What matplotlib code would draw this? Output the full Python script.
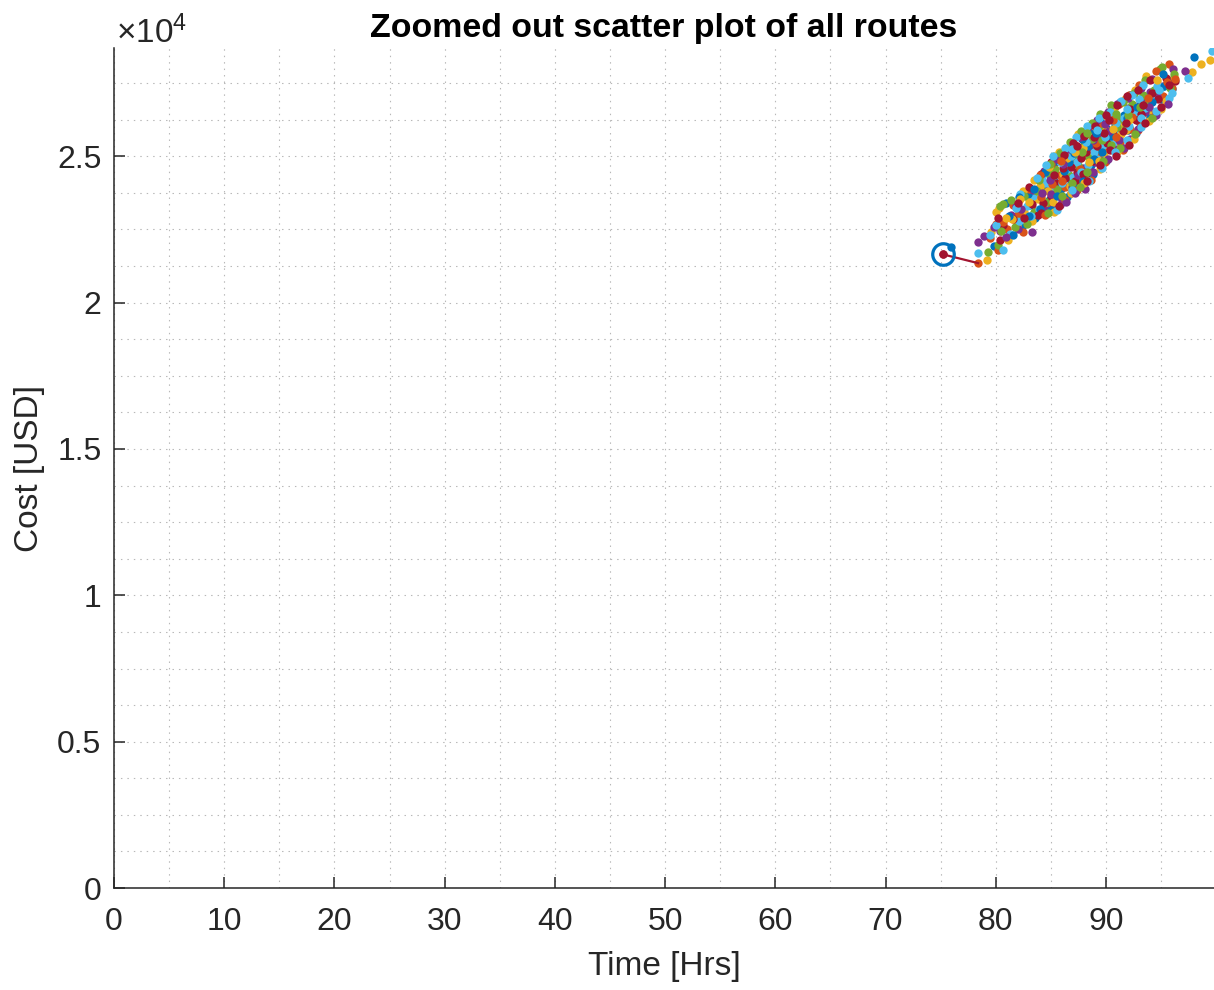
import matplotlib
matplotlib.use("Agg")
import matplotlib.pyplot as plt
from matplotlib.ticker import MultipleLocator, FixedLocator, FuncFormatter

plt.rcParams['font.family'] = ['Liberation Sans', 'DejaVu Sans']
plt.rcParams['mathtext.fontset'] = 'custom'
plt.rcParams['mathtext.rm'] = 'Liberation Sans'
plt.rcParams['mathtext.it'] = 'Liberation Sans'

# ---------------- data (Time [Hrs], Cost [USD]) ----------------
blue_x = [75.9, 79.8, 80.9, 82.4, 83.1, 83.6, 84.2, 84.8, 85.3, 85.9, 86.4, 86.8, 87.3, 87.7, 88.1, 88.6,
          89.0, 89.4, 89.9, 90.3, 90.8, 91.2, 91.6, 92.0, 92.5, 93.0, 93.4, 93.9, 94.5, 95.0, 95.6, 96.0,
          98.0, 84.0, 85.6, 86.2, 87.0, 88.4, 89.6, 90.5, 91.9, 92.8, 94.2, 95.3, 83.0, 81.6, 82.9, 86.6,
          88.9, 90.1,
          84.5, 85.2, 86.0, 86.9, 87.8, 88.6, 89.5, 90.4, 91.3, 92.2, 93.1, 85.0, 86.5, 87.9, 88.8, 90.0,
          91.4, 92.7, 94.0, 82.1, 83.5, 81.2, 95.2, 89.1, 87.1]
blue_y = [21900, 21950, 23420, 22600, 23350, 22900, 23800, 23500, 24300, 23900, 24650, 24100, 24900, 24300,
          25100, 24700, 25500, 24950, 25800, 25300, 26100, 25600, 26400, 25900, 26500, 26200, 26900, 26600,
          27100, 26950, 27600, 27300, 28380, 23200, 23650, 24500, 23950, 25350, 25150, 25700, 26300, 26700,
          26850, 27400, 22950, 22300, 23700, 24800, 24900, 25950,
          24450, 24800, 25000, 25350, 25600, 25950, 26250, 26500, 26850, 27100, 27400, 23150, 23600, 24150,
          24400, 24850, 25250, 25800, 26300, 23600, 23900, 22950, 27800, 25800, 25100]

orange_x = [78.4, 79.5, 80.2, 81.0, 81.8, 82.5, 83.2, 83.7, 84.4, 84.9, 85.4, 85.8, 86.3, 86.9, 87.4, 87.8,
            88.3, 88.8, 89.3, 89.7, 90.2, 90.7, 91.3, 91.7, 92.2, 92.7, 93.1, 93.6, 94.1, 94.7, 95.2, 95.7,
            96.0, 84.1, 86.0, 87.6, 89.1, 90.9, 92.4, 82.1, 80.7, 85.1, 88.0, 93.8, 91.0, 96.3,
            83.0, 84.0, 85.0, 86.2, 87.2, 88.2, 89.3, 90.3, 91.2, 92.1, 93.0, 94.5, 84.5, 86.3, 87.4, 88.6,
            89.9, 91.5, 92.9, 94.3, 81.6, 80.0, 85.9, 90.6, 95.5]
orange_y = [21350, 22200, 21800, 22500, 22950, 22400, 23400, 23150, 23950, 23400, 23800, 24350, 23950, 24700,
            24200, 25000, 24600, 25300, 25000, 25600, 25250, 25900, 25500, 26200, 25950, 26600, 26150, 26800,
            26500, 27200, 27050, 28160, 27350, 23600, 24150, 24550, 25450, 25650, 26350, 23050, 22750, 24050,
            24350, 27000, 26050, 27650,
            23900, 24350, 24750, 25100, 25400, 25750, 26100, 26450, 26800, 27100, 27450, 27900, 23000, 23500,
            23850, 24200, 24800, 25200, 25900, 26350, 23350, 22700, 24850, 26250, 27550]

yellow_x = [79.2, 79.6, 80.0, 80.3, 81.1, 81.9, 82.6, 83.3, 83.8, 84.3, 85.7, 86.0, 84.7, 85.2, 86.1, 86.7,
            87.1, 87.6, 88.2, 88.7, 89.2, 89.8, 90.4, 90.9, 91.4, 91.8, 92.3, 92.9, 93.3, 93.8, 94.4, 94.9,
            95.4, 96.2, 97.8, 98.6, 99.4, 86.5, 88.5, 90.0, 91.1, 83.0, 87.9, 89.4, 92.1, 81.5, 84.0,
            82.5, 83.5, 84.8, 85.3, 86.8, 87.5, 88.9, 89.8, 90.8, 91.7, 92.6, 93.6, 85.3, 86.8, 88.0, 89.5,
            91.0, 92.5, 93.9, 95.0, 80.9, 82.2, 87.2, 90.6, 94.6]
yellow_y = [21450, 22400, 23100, 23250, 22150, 22650, 23100, 22800, 23550, 23250, 25150, 25150, 23800, 23450,
            24400, 24000, 24750, 24950, 24400, 25050, 25650, 25100, 25500, 26300, 25750, 25900, 26600, 26350,
            26750, 26450, 27000, 27350, 26900, 27700, 27870, 28140, 28280, 24950, 24800, 25900, 26050, 23450,
            25300, 24850, 26250, 22850, 24000,
            23800, 24200, 24650, 25000, 25350, 25750, 26050, 26400, 26700, 26950, 27250, 27750, 23100, 23750,
            24100, 24550, 25150, 25600, 26200, 26600, 22900, 23550, 25150, 25950, 27600]

purple_x = [78.4, 78.9, 80.4, 81.4, 82.0, 83.3, 84.0, 84.6, 85.2, 85.8, 84.4, 85.0, 86.4, 86.9, 87.3, 87.9,
            88.5, 89.0, 89.5, 88.1, 90.5, 90.9, 91.2, 92.2, 91.5, 92.0, 92.6, 93.1, 93.5, 94.0, 94.6, 95.2,
            96.1, 97.2, 86.1, 87.5, 89.3, 90.3, 93.9, 84.9, 82.3, 80.9, 88.8,
            83.4, 84.4, 85.6, 86.6, 87.6, 88.4, 89.2, 90.2, 91.0, 92.0, 93.2, 94.2, 86.0, 87.2, 88.8, 90.2,
            91.6, 92.9, 94.5, 95.6, 79.8, 81.8, 89.9, 84.2, 86.4]
purple_y = [22060, 22270, 22450, 23000, 22500, 22420, 23050, 23150, 23250, 23350, 24050, 23700, 24300, 23950,
            25100, 24600, 25350, 24800, 25300, 23900, 25400, 25250, 25550, 25600, 26100, 26650, 26350, 26900,
            26500, 27200, 27050, 27400, 27990, 27910, 24750, 24350, 25700, 25850, 26700, 24200, 23200, 22250,
            25550,
            23850, 24500, 24900, 25250, 25650, 26000, 26250, 26500, 26800, 27000, 27350, 27650, 23500, 23750,
            24450, 24900, 25300, 25950, 26400, 26800, 22600, 23300, 26100, 23750, 23450]

green_x = [79.3, 80.2, 80.7, 80.4, 81.7, 82.3, 83.0, 83.5, 84.1, 84.6, 85.1, 85.6, 86.2, 86.6, 87.1, 87.5,
           88.0, 88.5, 89.0, 89.3, 89.8, 90.3, 90.7, 91.3, 91.8, 92.4, 92.9, 93.4, 93.9, 94.4, 94.9, 95.1,
           96.2, 82.8, 84.8, 86.9, 88.7, 90.5, 92.0, 85.4, 87.8, 89.6, 91.0, 93.1, 83.7,
           82.6, 83.9, 84.9, 85.8, 86.7, 87.7, 88.7, 89.5, 90.5, 91.5, 92.5, 93.5, 84.7, 86.0, 87.6, 88.3,
           89.7, 91.3, 92.6, 94.2, 80.5, 81.4, 88.3, 90.9, 95.8]
green_y = [21730, 21960, 23380, 23300, 22600, 22900, 23550, 23100, 23900, 23450, 24150, 23900, 24800, 24350,
           25050, 24700, 25400, 24950, 25800, 25300, 26000, 25650, 25950, 26250, 26050, 26800, 26500, 27100,
           26850, 27250, 27990, 28050, 27800, 22700, 24400, 24100, 25600, 25400, 26400, 24550, 25150, 25550,
           26000, 26700, 23800,
           23650, 24200, 24750, 25100, 25500, 25850, 26150, 26450, 26750, 26850, 27150, 27600, 23050, 23650,
           23950, 24450, 24850, 25300, 25750, 26300, 22450, 23500, 25800, 26450, 27350]

ltblue_x = [78.4, 80.7, 79.5, 81.3, 82.1, 82.8, 83.4, 83.9, 84.5, 85.0, 85.5, 86.0, 86.5, 87.0, 87.4, 87.9,
            88.4, 88.9, 89.2, 89.7, 90.2, 90.6, 91.1, 91.6, 92.1, 92.6, 93.0, 93.5, 94.1, 94.6, 95.1, 95.7,
            97.4, 99.6, 83.2, 85.8, 87.7, 89.9, 91.9, 94.8, 86.8, 88.2, 90.9, 84.2, 93.2,
            82.2, 83.7, 84.6, 85.2, 86.3, 87.3, 88.3, 89.4, 90.4, 91.4, 92.4, 93.4, 85.6, 86.9, 88.5, 89.6,
            90.8, 91.9, 93.2, 94.5, 80.0, 81.8, 86.9, 89.2, 96.0]
ltblue_y = [21680, 21790, 22300, 22350, 22800, 23300, 23650, 23200, 24100, 23950, 24350, 24100, 24550, 24300,
            24800, 25200, 24700, 25150, 24900, 25400, 25850, 25500, 25800, 26300, 26050, 26500, 26950, 26650,
            27000, 27400, 27370, 27000, 27660, 28590, 22950, 24800, 24450, 25650, 26600, 27250, 25000, 25500,
            26150, 24300, 26300,
            23700, 24250, 24700, 25000, 25300, 25650, 26050, 26300, 26500, 26900, 27100, 27450, 23150, 23850,
            24150, 24600, 25150, 25550, 26000, 26550, 22650, 23250, 25250, 25900, 27150]

dkred_x = [75.2, 80.4, 80.7, 81.6, 83.3, 83.8, 84.3, 85.5, 85.0, 85.6, 86.3, 86.8, 87.2, 87.7, 88.2, 88.7,
           89.2, 88.7, 90.1, 90.6, 91.2, 91.5, 92.2, 92.7, 93.2, 94.2, 94.7, 95.4, 96.3, 84.1, 86.1, 87.4,
           88.9, 90.4, 91.8, 93.4, 82.6, 85.3, 89.8, 87.9,
           83.0, 84.1, 85.0, 86.2, 87.0, 88.0, 89.0, 90.0, 91.0, 91.9, 92.9, 94.0, 85.7, 86.8, 88.3, 89.5,
           90.9, 92.1, 93.5, 95.0, 80.2, 82.0, 87.4, 90.3, 95.7]
dkred_y = [21650, 22130, 22640, 22850, 23380, 23000, 23400, 24800, 23650, 24100, 24250, 24650, 24150, 24950,
           25150, 24850, 25350, 24350, 25450, 25750, 26000, 25850, 26620, 26250, 26450, 27170, 26950, 27680,
           27570, 23050, 24600, 24450, 25650, 25200, 26150, 26750, 22900, 24350, 25800, 24400,
           23950, 24400, 24800, 25050, 25450, 25700, 26050, 26400, 26750, 27050, 27250, 27600, 23300, 23750,
           24150, 24700, 25000, 25400, 26150, 26700, 22900, 23400, 25350, 26250, 27450]

series_x = [blue_x, orange_x, yellow_x, purple_x, green_x, ltblue_x, dkred_x]
series_y = [blue_y, orange_y, yellow_y, purple_y, green_y, ltblue_y, dkred_y]
colors = ['#0072BD', '#D95319', '#EDB120', '#7E2F8E', '#77AC30', '#4DBEEE', '#A2142F']

# best route marker and its link
best_x, best_y = 75.2, 21650
link_x = [75.2, 78.4]
link_y = [21650, 21350]

x_ticks = [0, 10, 20, 30, 40, 50, 60, 70, 80, 90]
y_ticks = [0, 5000, 10000, 15000, 20000, 25000]

# ---------------- figure ----------------
fig = plt.figure(figsize=(12.14, 9.90), dpi=100)
ax = fig.add_axes([0.0939, 0.1030, 0.9061, 0.8485])

txt = '#262626'
grid_kw = dict(color='#b8b8b8', linewidth=0.8, linestyle=(0, (1.3, 4.5)))
ax.set_axisbelow(True)

# draw the series interleaved in chunks so no single colour sits on top of all others
n_chunks = 6
for k in range(n_chunks):
    for xs, ys, c in zip(series_x, series_y, colors):
        n = len(xs)
        a, b = k * n // n_chunks, (k + 1) * n // n_chunks
        ax.plot(xs[a:b], ys[a:b], linestyle='none', marker='o', markersize=6.0,
                markerfacecolor=c, markeredgecolor='none', zorder=3)

ax.plot(link_x, link_y, color='#A2142F', linewidth=1.6, zorder=4)
ax.plot([best_x], [best_y], linestyle='none', marker='o', markersize=6.0,
        markerfacecolor='#A2142F', markeredgecolor='none', zorder=4)
ax.plot([best_x], [best_y], linestyle='none', marker='o', markersize=15.5,
        markerfacecolor='none', markeredgecolor='#0072BD', markeredgewidth=2.3, zorder=5)

ax.set_xlim(0, 99.8)
ax.set_ylim(0, 28700)
ax.xaxis.set_major_locator(FixedLocator(x_ticks))
ax.yaxis.set_major_locator(FixedLocator(y_ticks))
ax.xaxis.set_minor_locator(MultipleLocator(5))
ax.yaxis.set_minor_locator(MultipleLocator(1250))
ax.yaxis.set_major_formatter(FuncFormatter(lambda v, p: ('%g' % (v / 1e4))))

ax.grid(True, which='both', **grid_kw)

for s in ['top', 'right']:
    ax.spines[s].set_visible(False)
for s in ['left', 'bottom']:
    ax.spines[s].set_color(txt)
    ax.spines[s].set_linewidth(1.1)

ax.tick_params(axis='both', which='major', direction='in', length=8, width=1.1,
               colors=txt, labelsize=23)
ax.tick_params(axis='x', which='major', pad=14)
ax.tick_params(axis='y', which='major', pad=9)
ax.tick_params(axis='both', which='minor', length=0)

ax.set_xlabel('Time [Hrs]', fontsize=24, color=txt, labelpad=10)
ax.set_ylabel('Cost [USD]', fontsize=24, color=txt, labelpad=9)
ax.set_title('Zoomed out scatter plot of all routes', fontsize=24.4, fontweight='bold',
             color='black', pad=8)
ax.text(0.002, 0.997, r'$\times10^{4}$', transform=ax.transAxes, ha='left', va='bottom',
        fontsize=24, color=txt)

fig.savefig('out.png', dpi=100)
